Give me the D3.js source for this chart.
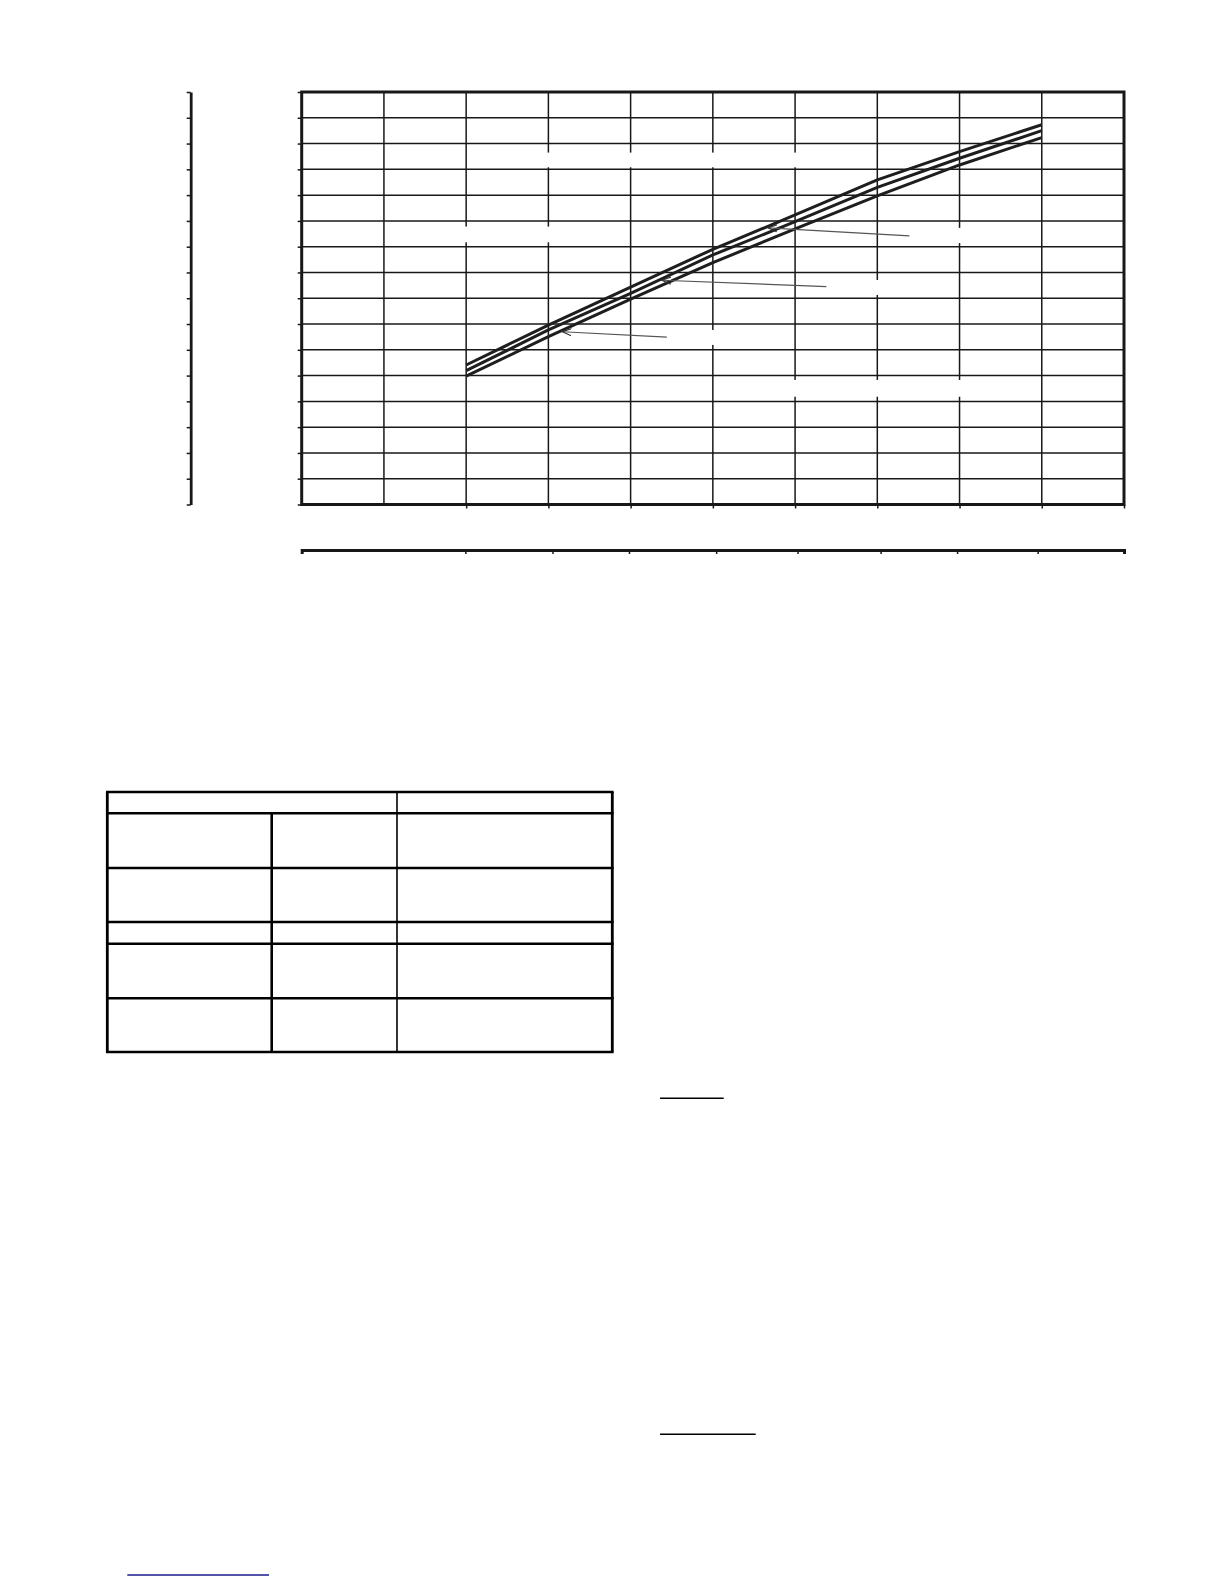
<!DOCTYPE html>
<html>
<head>
<meta charset="utf-8">
<script src="https://cdn.jsdelivr.net/npm/d3@7"></script>
<style>
  body { margin: 0; background: #fff; }
  svg { display: block; }
</style>
</head>
<body>
<div id="chart"></div>
<script>
// curve values (x in grid columns 0-10, y in grid rows 0-16)
const xValues = [2, 3, 4, 5, 6, 7, 8, 9];
const upperCurve = [5.41, 6.96, 8.43, 9.90, 11.23, 12.59, 13.69, 14.73];
const middleCurve = [5.19, 6.77, 8.19, 9.68, 10.97, 12.30, 13.43, 14.50];
const lowerCurve = [4.98, 6.51, 7.97, 9.38, 10.69, 11.97, 13.17, 14.23];

// ticks
const xGridTicks = d3.range(0, 11);
const yGridTicks = d3.range(0, 17);
const xMarkedTicks = [2, 3, 4, 5, 6, 7, 8, 9, 10];
const secondaryXTicks = [0, 1.99, 3.05, 3.98, 5.04, 6.03, 7.04, 7.97, 8.95, 10];

// callout arrows: curve hit, x where they hit it, and where the (blank) label sits
const calloutCurve = ["upper", "middle", "lower"];
const calloutAt = [5.67, 4.38, 3.17];
const calloutLabelX = [7.39, 6.38, 4.44];
const calloutLabelY = [10.42, 8.45, 6.49];

// blank label boxes that break the grid lines [x0, x1, y0, y1] in grid units
const blankLabels = [
  [2.65, 6.31, 13.08, 13.65],
  [1.44, 3.63, 10.17, 10.78],
  [7.46, 8.49, 10.14, 10.73],
  [6.42, 7.46, 8.13, 8.71],
  [4.48, 5.57, 6.19, 6.77],
  [5.57, 8.49, 4.18, 4.83]
];

const W = 1224, H = 1584;
const ink = "#181818";

const svg = d3.select("#chart")
  .append("svg")
  .attr("width", W)
  .attr("height", H);

svg.append("rect").attr("width", W).attr("height", H).attr("fill", "#fff");

const x = d3.scaleLinear().domain([0, 10]).range([301.7, 1124]);
const y = d3.scaleLinear().domain([0, 16]).range([504.5, 92]);

// grid
const grid = svg.append("g").attr("stroke", ink).attr("stroke-width", 1.5);
grid.selectAll(".vline").data(xGridTicks).join("line")
  .attr("class", "vline")
  .attr("x1", d => x(d)).attr("x2", d => x(d))
  .attr("y1", y(0)).attr("y2", y(16));
grid.selectAll(".hline").data(yGridTicks).join("line")
  .attr("class", "hline")
  .attr("x1", x(0)).attr("x2", x(10))
  .attr("y1", d => y(d)).attr("y2", d => y(d));

// white label boxes (text removed)
svg.append("g").selectAll("rect").data(blankLabels).join("rect")
  .attr("x", d => x(d[0]))
  .attr("y", d => y(d[3]))
  .attr("width", d => x(d[1]) - x(d[0]))
  .attr("height", d => y(d[2]) - y(d[3]))
  .attr("fill", "#fff");

// frame
svg.append("rect")
  .attr("x", x(0)).attr("y", y(16))
  .attr("width", x(10) - x(0)).attr("height", y(0) - y(16))
  .attr("fill", "none").attr("stroke", ink).attr("stroke-width", 3);

// tick marks on the plot frame
const leftTicks = svg.append("g")
  .attr("transform", `translate(${x(0)},0)`)
  .call(d3.axisLeft(y).tickValues(yGridTicks).tickSize(4).tickSizeOuter(0).tickFormat(""));
const bottomTicks = svg.append("g")
  .attr("transform", `translate(0,${y(0)})`)
  .call(d3.axisBottom(x).tickValues(xMarkedTicks).tickSize(4).tickSizeOuter(0).tickFormat(""));
[leftTicks, bottomTicks].forEach(g => {
  g.select(".domain").remove();
  g.attr("color", ink).selectAll("line").attr("stroke-width", 1.5);
});

// secondary bottom axis
const secAxis = svg.append("g")
  .attr("transform", "translate(0,550)")
  .call(d3.axisBottom(x).tickValues(secondaryXTicks).tickSize(4).tickSizeOuter(4).tickFormat(""));
secAxis.attr("color", ink);
secAxis.select(".domain").attr("stroke-width", 3);
secAxis.selectAll("line").attr("stroke-width", 1.5);

// secondary left axis
const secLeft = svg.append("g")
  .attr("transform", "translate(190.7,0)")
  .call(d3.axisLeft(y).tickValues(yGridTicks).tickSize(4).tickSizeOuter(0).tickFormat(""));
secLeft.attr("color", ink);
secLeft.select(".domain").attr("stroke-width", 2.8);
secLeft.selectAll("line").attr("stroke-width", 1.5);

// curves
const curves = { upper: upperCurve, middle: middleCurve, lower: lowerCurve };
const line = d3.line()
  .x((d, i) => x(xValues[i]))
  .y(d => y(d));

svg.append("g").selectAll("path").data([upperCurve, middleCurve, lowerCurve]).join("path")
  .attr("d", line)
  .attr("fill", "none")
  .attr("stroke", "#1e1e1e")
  .attr("stroke-width", 3)
  .attr("stroke-linejoin", "round");

// callout arrows
svg.append("defs").append("marker")
  .attr("id", "arrow")
  .attr("viewBox", "0 -5 10 10")
  .attr("refX", 9).attr("refY", 0)
  .attr("markerUnits", "userSpaceOnUse")
  .attr("markerWidth", 10).attr("markerHeight", 10)
  .attr("orient", "auto")
  .append("path")
  .attr("d", "M0,-3.5L9,0L0,3.5")
  .attr("fill", "none")
  .attr("stroke", "#333")
  .attr("stroke-width", 1.2);

svg.append("g").selectAll("line").data(calloutCurve).join("line")
  .attr("x1", (d, i) => x(calloutLabelX[i]))
  .attr("y1", (d, i) => y(calloutLabelY[i]))
  .attr("x2", (d, i) => x(calloutAt[i]))
  .attr("y2", (d, i) => {
    const interp = d3.scaleLinear().domain(xValues).range(curves[d]);
    return y(interp(calloutAt[i])) + 1.5;
  })
  .attr("stroke", "#555")
  .attr("stroke-width", 1.2)
  .attr("marker-end", "url(#arrow)");

// table below the chart
const tLeft = 107.3, tRight = 612.3;
const rowEdges = [792, 813.3, 868, 922, 943.7, 998.3, 1052];
const table = svg.append("g").attr("stroke", "#000");
table.selectAll(".row").data(rowEdges).join("line")
  .attr("class", "row")
  .attr("x1", tLeft - 1.3).attr("x2", tRight + 1.3)
  .attr("y1", d => d).attr("y2", d => d)
  .attr("stroke-width", 2.6);
table.append("line")
  .attr("x1", tLeft).attr("x2", tLeft)
  .attr("y1", rowEdges[0]).attr("y2", rowEdges[6])
  .attr("stroke-width", 2.8);
table.append("line")
  .attr("x1", tRight).attr("x2", tRight)
  .attr("y1", rowEdges[0]).attr("y2", rowEdges[6])
  .attr("stroke-width", 2.8);
table.append("line")
  .attr("x1", 271.7).attr("x2", 271.7)
  .attr("y1", rowEdges[1]).attr("y2", rowEdges[6])
  .attr("stroke-width", 2.6);
table.append("line")
  .attr("x1", 397).attr("x2", 397)
  .attr("y1", rowEdges[0]).attr("y2", rowEdges[6])
  .attr("stroke-width", 1.6);

// underlines of the (blank) headings and link
svg.append("line").attr("x1", 660).attr("x2", 723.7).attr("y1", 1098.3).attr("y2", 1098.3)
  .attr("stroke", "#000").attr("stroke-width", 1.6);
svg.append("line").attr("x1", 660).attr("x2", 755.7).attr("y1", 1434.3).attr("y2", 1434.3)
  .attr("stroke", "#000").attr("stroke-width", 1.6);
svg.append("line").attr("x1", 127.3).attr("x2", 269).attr("y1", 1575).attr("y2", 1575)
  .attr("stroke", "#1a1a8c").attr("stroke-width", 1.6);
</script>
</body>
</html>
